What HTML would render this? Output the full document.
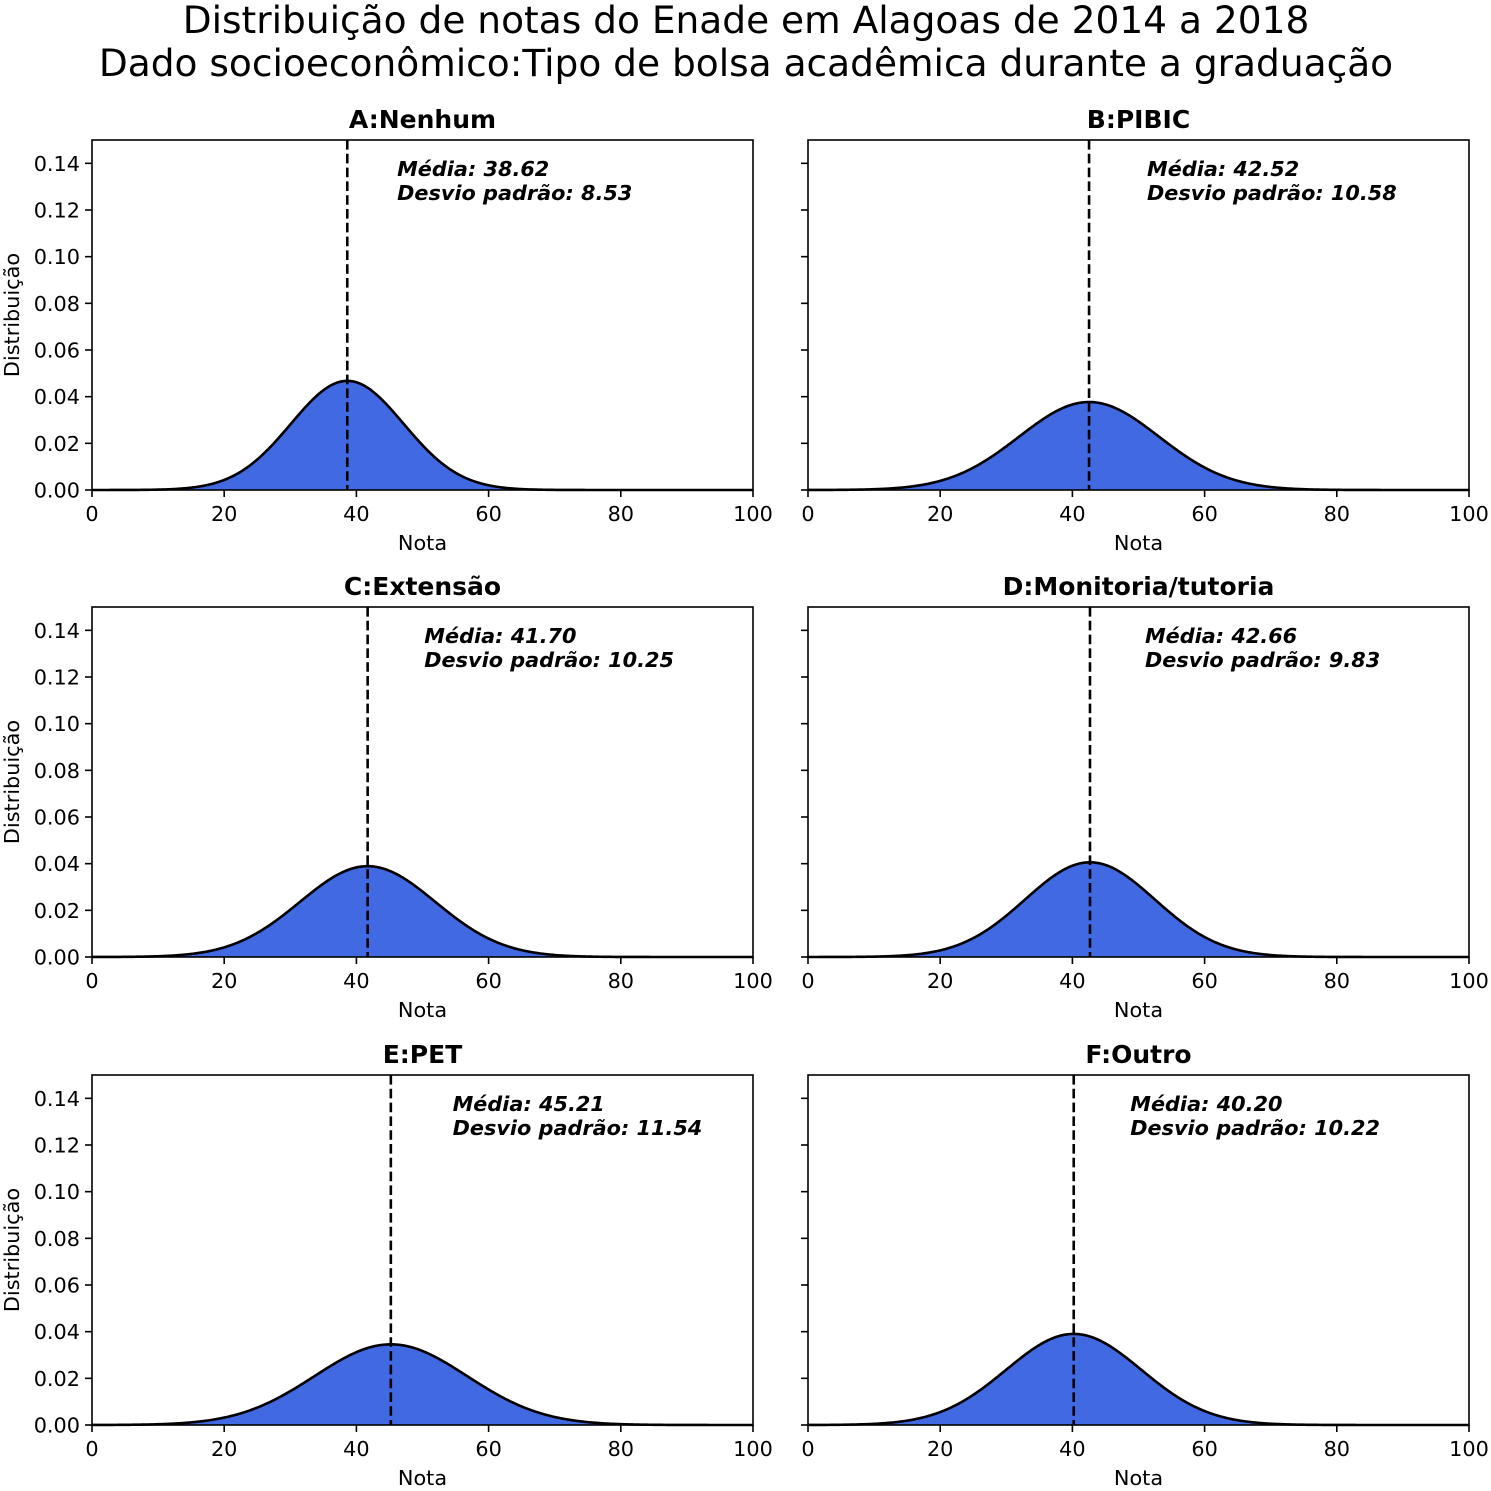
<!DOCTYPE html>
<html><head><meta charset="utf-8"><style>
html,body{margin:0;padding:0;background:#fff}
svg{display:block;font-family:"DejaVu Sans","Liberation Sans",sans-serif}
</style></head><body>
<svg id="fig" width="1491" height="1491" viewBox="0 0 1491 1491" xmlns="http://www.w3.org/2000/svg">
<text x="746" y="33" font-size="37.5" text-anchor="middle">Distribuição de notas do Enade em Alagoas de 2014 a 2018</text>
<text x="746" y="76" font-size="37.5" text-anchor="middle">Dado socioeconômico:Tipo de bolsa acadêmica durante a graduação</text>
</svg>
<script>
const titles = ["A:Nenhum","B:PIBIC","C:Extensão","D:Monitoria/tutoria","E:PET","F:Outro"];
const means = [38.62,42.52,41.70,42.66,45.21,40.20];
const sds = [8.53,10.58,10.25,9.83,11.54,10.22];
const xTicks = [0,20,40,60,80,100];
const yTicks = [0,0.02,0.04,0.06,0.08,0.10,0.12,0.14];

const NS="http://www.w3.org/2000/svg";
const svg=document.getElementById('fig');
function mk(tag,attrs,parent){const e=document.createElementNS(NS,tag);for(const k in attrs)e.setAttribute(k,attrs[k]);(parent||svg).appendChild(e);return e;}
const colX=[92,808], rowY=[140,607,1075], W=661, H=350;
for(let i=0;i<titles.length;i++){
  const x0=colX[i%2], y0=rowY[Math.floor(i/2)], left=i%2===0;
  const sx=v=>x0+v/100*W, sy=v=>y0+H-v/0.15*H;
  const g=mk('g',{});
  
  
  let pts=[];
  for(let k=0;k<=400;k++){const x=k/4;const y=Math.exp(-0.5*((x-means[i])/sds[i])**2)/(sds[i]*Math.sqrt(2*Math.PI));pts.push(sx(x).toFixed(2)+','+sy(y).toFixed(2));}
  const area=mk('polygon',{points:sx(0)+','+sy(0)+' '+pts.join(' ')+' '+sx(100)+','+sy(0),fill:'#4169e1'},g);
  
  
  const line=mk('polyline',{points:pts.join(' '),fill:'none',stroke:'#000','stroke-width':2.6},g);
  
  
  const ml=mk('line',{x1:sx(means[i]),x2:sx(means[i]),y1:y0,y2:y0+H,stroke:'#000','stroke-width':2.6,'stroke-dasharray':'9.6,4.2'},g);
  
  
  const fr=mk('rect',{x:x0,y:y0,width:W,height:H,fill:'none',stroke:'#000','stroke-width':1.6},g);
  
  
  const t=mk('text',{x:x0+W/2,y:y0-12,'font-size':25,'font-weight':'bold','text-anchor':'middle'},g);
  t.textContent=titles[i];
  
  
  const ax=sx(means[i]+0.6*sds[i])+16;
  const a1=mk('text',{x:ax,y:y0+36,'font-size':20.8,'font-weight':'bold','font-style':'italic'},g);
  a1.textContent='Média: '+means[i].toFixed(2);
  
  
  const a2=mk('text',{x:ax,y:y0+60,'font-size':20.8,'font-weight':'bold','font-style':'italic'},g);
  a2.textContent='Desvio padrão: '+sds[i].toFixed(2);
  
  
  xTicks.forEach(v=>{
    mk('line',{x1:sx(v),x2:sx(v),y1:y0+H,y2:y0+H+7,stroke:'#000','stroke-width':1.6},g);
    const tl=mk('text',{x:sx(v),y:y0+H+31,'font-size':20.8,'text-anchor':'middle'},g);
    tl.textContent=v;
    
    
  });
  const xl=mk('text',{x:x0+W/2,y:y0+H+60,'font-size':20.8,'text-anchor':'middle'},g);
  xl.textContent='Nota';
  
  
  yTicks.forEach(v=>{
    mk('line',{x1:x0-7,x2:x0,y1:sy(v),y2:sy(v),stroke:'#000','stroke-width':1.6},g);
    if(left){
      const tl=mk('text',{x:x0-12,y:sy(v)+7.5,'font-size':20.8,'text-anchor':'end'},g);
      tl.textContent=v.toFixed(2);
      
      
    }
  });
  if(left){
    const yl=mk('text',{x:0,y:0,'font-size':20.8,'text-anchor':'middle',transform:'translate(19,'+(y0+H/2)+') rotate(-90)'},g);
    yl.textContent='Distribuição';
    
    
  }
}
</script>
</body></html>
